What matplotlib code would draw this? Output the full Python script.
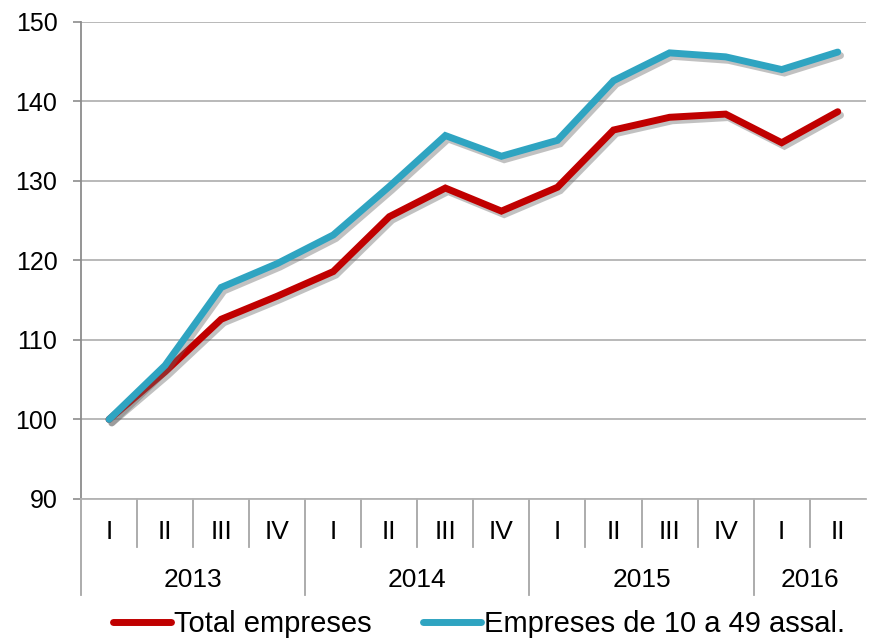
import matplotlib
matplotlib.use('Agg')
import matplotlib.pyplot as plt
import matplotlib.patheffects as pe
from matplotlib.lines import Line2D
from matplotlib.transforms import blended_transform_factory
import numpy as np

plt.rcParams['font.family'] = ['Liberation Sans', 'DejaVu Sans']

# quarterly index, 2013 I = 100
quarters = ['I', 'II', 'III', 'IV', 'I', 'II', 'III', 'IV', 'I', 'II', 'III', 'IV', 'I', 'II']
years = ['2013', '2014', '2015', '2016']
quarters_per_year = [4, 4, 4, 2]
total_empreses = [100, 106.0, 112.6, 115.5, 118.6, 125.5, 129.1, 126.2, 129.2, 136.4, 138.0, 138.4, 134.8, 138.7]
empreses_10_49 = [100, 106.8, 116.6, 119.6, 123.2, 129.3, 135.7, 133.1, 135.1, 142.6, 146.1, 145.6, 144.0, 146.2]
series_names = ['Total empreses', 'Empreses de 10 a 49 assal.']

red = '#C00000'
blue = '#2FA4C1'
grid_col = '#B3B3B3'

fig = plt.figure(figsize=(8.71, 6.43), dpi=100)
ax = fig.add_axes([0.093, 0.224, 0.901, 0.742])

x = np.arange(len(quarters))
shadow = [pe.SimpleLineShadow(offset=(2, -2.5), shadow_color='#666666', alpha=0.4), pe.Normal()]
ax.plot(x, total_empreses, color=red, lw=5, solid_capstyle='round', solid_joinstyle='miter',
        path_effects=shadow, zorder=3)
ax.plot(x, empreses_10_49, color=blue, lw=5, solid_capstyle='round', solid_joinstyle='miter',
        path_effects=shadow, zorder=4)

ax.set_xlim(-0.5, len(quarters) - 0.5)
ax.set_ylim(90, 150)
ax.set_yticks(np.arange(90, 151, 10))
ax.tick_params(axis='y', labelsize=18, length=6, width=1.2, color='#8C8C8C', pad=11)
ax.set_xticks([])
ax.yaxis.grid(True, color=grid_col, lw=1.3)
ax.set_axisbelow(True)
for s in ['top', 'right']:
    ax.spines[s].set_visible(False)
ax.spines['left'].set_color('#8C8C8C')
ax.spines['left'].set_linewidth(1.3)
ax.spines['bottom'].set_color(grid_col)
ax.spines['bottom'].set_linewidth(1.3)

# two-level category axis
trans = blended_transform_factory(ax.transData, ax.transAxes)
px = 1.0 / 477  # axes height in pixels
sep_kw = dict(transform=trans, clip_on=False, color='#A6A6A6', lw=1.3)
for i, q in enumerate(quarters):
    ax.text(i, -33 * px, q, transform=trans, ha='center', va='center', fontsize=19)
year_edges = np.concatenate([[0], np.cumsum(quarters_per_year)]) - 0.5
for b in np.arange(len(quarters)) - 0.5:
    if b in year_edges:
        ax.plot([b, b], [0, -96 * px], **sep_kw)
    else:
        ax.plot([b, b], [0, -48 * px], **sep_kw)
for y, lo, hi in zip(years, year_edges[:-1], year_edges[1:]):
    ax.text((lo + hi) / 2, -81 * px, y, transform=trans, ha='center', va='center', fontsize=19)

# legend handles without the shadow
handles = [Line2D([], [], color=c, lw=5, solid_capstyle='round') for c in (red, blue)]
fig.legend(handles, series_names, loc='center', bbox_to_anchor=(0.55, 0.03), ncol=2,
           frameon=False, fontsize=21, handlelength=2.0, handletextpad=0.1,
           columnspacing=1.75, borderpad=0)

fig.savefig('out.png', dpi=100)
